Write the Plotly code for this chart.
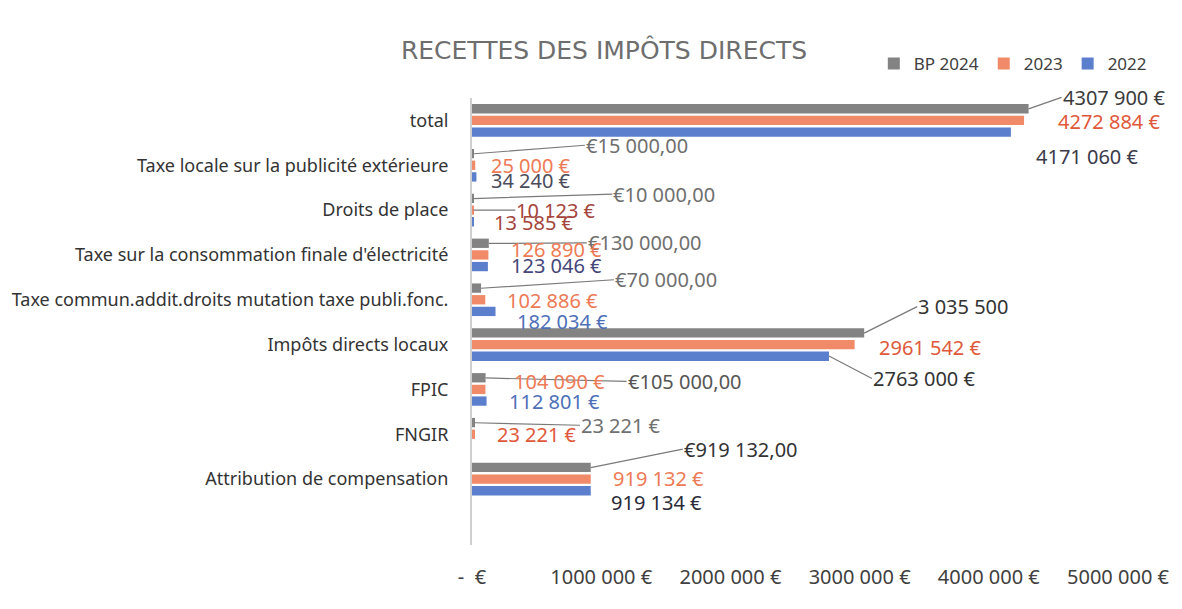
import plotly.graph_objects as go

# ---- data ----
categories = [
    "total",
    "Taxe locale sur la publicité extérieure",
    "Droits de place",
    "Taxe sur la consommation finale d'électricité",
    "Taxe commun.addit.droits mutation taxe publi.fonc.",
    "Impôts directs locaux",
    "FPIC",
    "FNGIR",
    "Attribution de compensation",
]
bp2024 = [4307900, 15000, 10000, 130000, 70000, 3035500, 105000, 23221, 919132]
r2023 = [4272884, 25000, 10123, 126890, 102886, 2961542, 104090, 23221, 919132]
r2022 = [4171060, 34240, 13585, 123046, 182034, 2763000, 112801, None, 919134]

bp2024_labels = ["4307 900 €", "€15 000,00", "€10 000,00", "€130 000,00", "€70 000,00",
                 "3 035 500", "€105 000,00", "23 221 €", "€919 132,00"]
r2023_labels = ["4272 884 €", "25 000 €", "10 123 €", "126 890 €", "102 886 €",
                "2961 542 €", "104 090 €", "23 221 €", "919 132 €"]
r2022_labels = ["4171 060 €", "34 240 €", "13 585 €", "123 046 €", "182 034 €",
                "2763 000 €", "112 801 €", None, "919 134 €"]

tick_vals = [0, 1000000, 2000000, 3000000, 4000000, 5000000]
tick_text = ["-  €", "1000 000 €", "2000 000 €", "3000 000 €", "4000 000 €", "5000 000 €"]

# ---- styles ----
FONT = "Noto Sans"
C_GRAY, C_ORANGE, C_BLUE = "#838383", "#f08a68", "#5b7fcc"
series = [
    ("BP 2024", bp2024, C_GRAY),
    ("2023", r2023, C_ORANGE),
    ("2022", r2022, C_BLUE),
]

# label placement: (dx, dy, leader, color) relative to bar end / bar centre (pixels)
bp_style = [(33, -11.5, True, "#3b3b3b"), (111, -8.5, True, "#6f6f6f"), (139, -4.5, True, "#6f6f6f"),
            (98, -0.5, True, "#6f6f6f"), (133, -8.5, True, "#6f6f6f"), (53, -26.5, True, "#333333"),
            (141, 3.5, True, "#555555"), (105, 2.5, True, "#707070"), (92, -18.5, True, "#333333")]
s23_style = [(32, 1, False, "#e0583a"), (14, 0, False, "#ee7a55"), (42, 0, True, "#a4453c"),
             (21, -5, False, "#ee7a55"), (20, 1, False, "#ee7a55"), (22, 3, False, "#e0583a"),
             (27, -8, False, "#ee7a55"), (20, 0, False, "#e0583a"), (20, -1, False, "#ee7a55")]
s22_style = [(23, 24.5, False, "#3a3a4a"), (13, 3.5, False, "#4b4b5b"), (18, 0.5, False, "#a4453c"),
             (21, -0.5, False, "#46467a"), (19, 10.5, False, "#4e70b8"), (43, 22.5, True, "#333333"),
             (20, 0.5, False, "#4e70b8"), None, (18, 11.5, False, "#2a2a38")]
bar_offsets = [-11.5, 0, 11.5]  # screen offset of each series' bar centre

fig = go.Figure()
for name, vals, col in series:
    fig.add_trace(go.Bar(
        y=categories, x=vals, name=name, orientation="h",
        marker=dict(color=col, line=dict(width=0)),
    ))

annotations = []
for (vals, labels, styles), boff in zip(
        [(bp2024, bp2024_labels, bp_style), (r2023, r2023_labels, s23_style), (r2022, r2022_labels, s22_style)],
        bar_offsets):
    for cat, v, lab, st in zip(categories, vals, labels, styles):
        if v is None or lab is None or st is None:
            continue
        dx, dy, leader, color = st
        if leader:
            annotations.append(dict(
                x=v, y=cat, xref="x", yref="y", text=lab, showarrow=True,
                ax=dx, ay=dy, axref="pixel", ayref="pixel",
                xanchor="left", yanchor="middle", yshift=-boff,
                arrowhead=0, arrowwidth=1.2, arrowcolor="#7a7a7a",
                standoff=0, startstandoff=0, borderpad=0,
                font=dict(family=FONT, size=20, color=color),
            ))
        else:
            annotations.append(dict(
                x=v, y=cat, xref="x", yref="y", text=lab, showarrow=False,
                xanchor="left", yanchor="middle", xshift=dx, yshift=-(boff + dy),
                font=dict(family=FONT, size=20, color=color),
            ))

fig.update_layout(
    width=1182, height=609,
    paper_bgcolor="white", plot_bgcolor="white",
    margin=dict(l=470, r=62, t=98, b=64),
    barmode="group", bargap=0.22, bargroupgap=0.2,
    title=dict(text="RECETTES DES IMPÔTS DIRECTS", x=604 / 1182, xanchor="center",
               y=1 - 50 / 609, yanchor="middle", xref="container", yref="container",
               font=dict(family="DejaVu Sans", size=25, color="#6e6e6e")),
    legend=dict(orientation="h", x=0.622, xanchor="left", y=1.076, yanchor="middle",
                font=dict(family=FONT, size=17, color="#404040"), traceorder="normal",
                itemwidth=30, bgcolor="rgba(0,0,0,0)"),
    annotations=annotations,
    xaxis=dict(range=[0, 5000000], tickvals=tick_vals, ticktext=tick_text,
               showgrid=False, zeroline=False, showline=False, ticks="",
               ticklabelstandoff=18,
               tickfont=dict(family=FONT, size=20, color="#404040")),
    yaxis=dict(type="category", categoryorder="array", categoryarray=categories,
               range=[9.47, -0.5], showgrid=False, zeroline=False,
               showline=True, linecolor="#cfcfcf", linewidth=2, ticks="",
               ticklabelstandoff=18,
               tickfont=dict(family=FONT, size=18, color="#333333")),
)

fig.write_html("out.html", post_script="document.body.style.margin='0';",
               config={"displayModeBar": False})
